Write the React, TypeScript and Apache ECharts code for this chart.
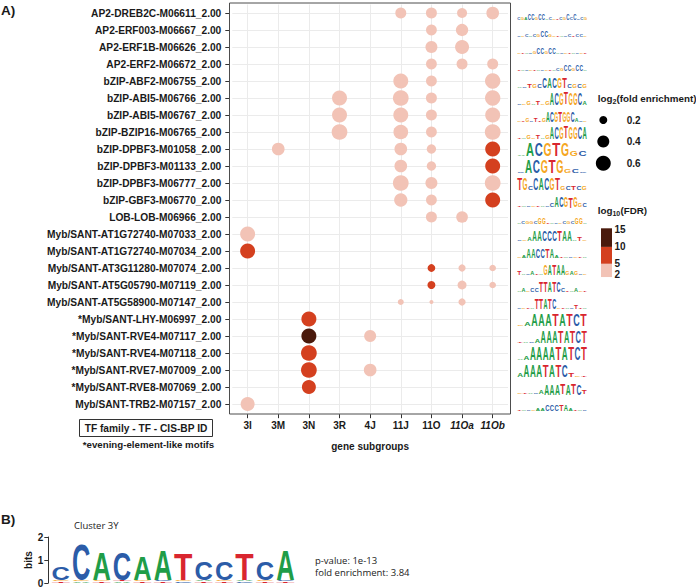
import React, { useEffect, useRef } from 'react';
import * as echarts from 'echarts';

const FONT = '"Liberation Sans", Arial, Helvetica, sans-serif';
const SOFT_FONT = '"Open Sans", "Liberation Sans", sans-serif';

const motifs = [
  'AP2-DREB2C-M06611_2.00',
  'AP2-ERF003-M06667_2.00',
  'AP2-ERF1B-M06626_2.00',
  'AP2-ERF2-M06672_2.00',
  'bZIP-ABF2-M06755_2.00',
  'bZIP-ABI5-M06766_2.00',
  'bZIP-ABI5-M06767_2.00',
  'bZIP-BZIP16-M06765_2.00',
  'bZIP-DPBF3-M01058_2.00',
  'bZIP-DPBF3-M01133_2.00',
  'bZIP-DPBF3-M06777_2.00',
  'bZIP-GBF3-M06770_2.00',
  'LOB-LOB-M06966_2.00',
  'Myb/SANT-AT1G72740-M07033_2.00',
  'Myb/SANT-AT1G72740-M07034_2.00',
  'Myb/SANT-AT3G11280-M07074_2.00',
  'Myb/SANT-AT5G05790-M07119_2.00',
  'Myb/SANT-AT5G58900-M07147_2.00',
  '*Myb/SANT-LHY-M06997_2.00',
  '*Myb/SANT-RVE4-M07117_2.00',
  '*Myb/SANT-RVE4-M07118_2.00',
  '*Myb/SANT-RVE7-M07009_2.00',
  '*Myb/SANT-RVE8-M07069_2.00',
  'Myb/SANT-TRB2-M07157_2.00',
];

const subgroups = ['3I', '3M', '3N', '3R', '4J', '11J', '11O', '11Oa', '11Ob'];
const italicSubgroups = ['11Oa', '11Ob'];

// [gene subgroup, motif index, log2(fold enrichment), log10(FDR)]
const enrichment: [string, number, number, number][] = [
  ['11J', 0, 0.34, 3], ['11O', 0, 0.34, 3], ['11Oa', 0, 0.29, 3], ['11Ob', 0, 0.44, 3],
  ['11O', 1, 0.33, 3], ['11Oa', 1, 0.42, 3],
  ['11O', 2, 0.40, 3], ['11Oa', 2, 0.53, 3],
  ['11O', 3, 0.33, 3], ['11Oa', 3, 0.34, 3], ['11Ob', 3, 0.34, 3],
  ['11J', 4, 0.60, 3], ['11O', 4, 0.33, 3], ['11Ob', 4, 0.63, 3],
  ['3R', 5, 0.60, 3], ['11J', 5, 0.66, 3], ['11O', 5, 0.34, 3], ['11Ob', 5, 0.63, 3],
  ['3R', 6, 0.60, 3], ['11J', 6, 0.60, 3], ['11O', 6, 0.34, 3], ['11Ob', 6, 0.60, 3],
  ['3R', 7, 0.66, 3], ['11J', 7, 0.58, 3], ['11O', 7, 0.33, 3], ['11Ob', 7, 0.66, 3],
  ['3M', 8, 0.44, 3], ['11J', 8, 0.44, 3], ['11O', 8, 0.26, 3], ['11Ob', 8, 0.60, 7],
  ['11J', 9, 0.44, 3], ['11O', 9, 0.26, 3], ['11Ob', 9, 0.60, 7],
  ['11J', 10, 0.66, 3], ['11O', 10, 0.40, 3], ['11Ob', 10, 0.66, 3],
  ['11J', 11, 0.48, 3], ['11O', 11, 0.33, 3], ['11Ob', 11, 0.60, 7],
  ['11O', 12, 0.34, 3], ['11Oa', 12, 0.38, 3],
  ['3I', 13, 0.60, 3],
  ['3I', 14, 0.60, 7],
  ['11O', 15, 0.19, 7], ['11Oa', 15, 0.17, 3], ['11Ob', 15, 0.15, 3],
  ['11O', 16, 0.20, 7], ['11Oa', 16, 0.24, 3], ['11Ob', 16, 0.15, 3],
  ['11J', 17, 0.13, 3], ['11O', 17, 0.08, 3], ['11Oa', 17, 0.17, 3],
  ['3N', 18, 0.60, 7],
  ['3N', 19, 0.60, 12], ['4J', 19, 0.40, 3],
  ['3N', 20, 0.66, 7],
  ['3N', 21, 0.66, 7], ['4J', 21, 0.44, 3],
  ['3N', 22, 0.53, 7],
  ['3I', 23, 0.53, 3],
];

const sizeLegendValues = [0.2, 0.4, 0.6];
const fdrTicks = [15, 10, 5, 2];
const fdrBands: [number, number, string][] = [
  [10, 15.5, '#4a1a0c'],
  [5, 10, '#d4401f'],
  [1.1, 5, '#f2c3b6'],
];

// sequence logos of the CIS-BP motifs (upper case: tall, lower case: short, '.': background)
const motifLogos = [
  'cgaCCgCC.c..cgCcC.cg',
  '..c.cgCCg....c.cc.',
  '....gCCgCC........',
  '..........cgCCgCC.',
  '..tgcCACGTcgcg',
  '..g.t.gACGTGGCa',
  '..g.t.gACGTGGCa..',
  '..g.t.gACGTGGCA',
  '.ACGTGgc',
  '.ACGTGgc.',
  'TGcCACGTgctcg',
  '.......cACGTGgc',
  '.cggcGG....cgcGG.',
  '..aAACCCTAA.t.',
  '.aAACCTAa......',
  't..a..GATAAgag..',
  '.a.ccTTATCc..a..',
  '....TTATC....t..',
  '.aAAATATCT',
  '...aAAATATCT',
  '.aAAAATATCT',
  'aAAATATCt..',
  '....aAAATATCt',
  '....aaCCCTAa...',
];
const motifLogoScale = [7, 7, 6, 7, 10, 12, 11, 12, 14, 13, 12, 11, 7, 10, 9, 10, 10, 10, 12, 12, 13, 12, 11, 7];

// cluster 3Y logo (B)
const clusterLetters = ['C', 'C', 'A', 'C', 'A', 'A', 'T', 'C', 'C', 'T', 'C', 'A'];
const clusterBits = [0.57, 1.57, 1.22, 1.22, 1.04, 1.35, 1.17, 0.83, 0.83, 1.17, 0.83, 1.35];
const clusterMinor = ['TG', 'AG', 'TG', 'AT', 'TG', 'TC', 'CG', 'TA', 'TG', 'CA', 'TG', 'TC'];
const bitsTicks = [0, 1, 2];

const LETTER_COLORS: Record<string, string> = { A: '#1f9d48', C: '#2b5ca8', G: '#f5a623', T: '#d9262f' };
const GLYPH_W: Record<string, number> = { A: 0.722, C: 0.722, G: 0.778, T: 0.611 };

const dotSize = (v: number) => Math.sqrt(Math.max(4, 400 * v - 16));
const fdrColor = (v: number) => (v >= 10 ? fdrBands[0][2] : v >= 5 ? fdrBands[1][2] : fdrBands[2][2]);

function letterEl(letter: string, cx: number, yBottom: number, w: number, h: number, F: number) {
  const L = letter.toUpperCase();
  const sx = w / (GLYPH_W[L] * F);
  const sy = h / (0.729 * F);
  return {
    type: 'text',
    x: cx,
    y: yBottom - 0.3465 * F * sy,
    scaleX: sx,
    scaleY: sy,
    silent: true,
    style: {
      text: L,
      fill: LETTER_COLORS[L],
      font: `bold ${F}px ${FONT}`,
      lineHeight: F * 0.72,
      align: 'center',
      verticalAlign: 'middle',
    },
  };
}

const fdrY = (v: number) => 274 - (v - 2) * 3.385;

function buildOption() {
  const labelStyle = { fontFamily: FONT, fontWeight: 'bold' as const, color: '#1a1a1a' };

  const graphic: any[] = [
    // panel border
    { type: 'rect', silent: true, z: 20, shape: { x: 229.5, y: 3, width: 281, height: 411 }, style: { fill: 'none', stroke: '#4d4d4d', lineWidth: 1 } },
    { type: 'text', x: 1, y: 10, style: { text: 'A)', font: `bold 13.5px ${FONT}`, fill: '#1a1a1a', verticalAlign: 'middle' } },
    { type: 'rect', shape: { x: 79.5, y: 419.5, width: 133, height: 17 }, style: { fill: 'none', stroke: '#333', lineWidth: 1 } },
    { type: 'text', x: 146, y: 428, style: { text: 'TF family - TF - CIS-BP ID', font: `bold 10.2px ${FONT}`, fill: '#1a1a1a', align: 'center', verticalAlign: 'middle' } },
    { type: 'text', x: 148.5, y: 444, style: { text: '*evening-element-like motifs', font: `bold 9.7px ${FONT}`, fill: '#1a1a1a', align: 'center', verticalAlign: 'middle' } },
    // size legend
    { type: 'text', x: 597.7, y: 98, style: { text: 'log', font: `bold 9.8px ${FONT}`, fill: '#1a1a1a', verticalAlign: 'middle' } },
    { type: 'text', x: 612.4, y: 101, style: { text: '2', font: `bold 7px ${FONT}`, fill: '#1a1a1a', verticalAlign: 'middle' } },
    { type: 'text', x: 616.4, y: 98, style: { text: '(fold enrichment)', font: `bold 9.8px ${FONT}`, fill: '#1a1a1a', verticalAlign: 'middle' } },
    // fdr legend
    { type: 'text', x: 597.7, y: 210, style: { text: 'log', font: `bold 9.8px ${FONT}`, fill: '#1a1a1a', verticalAlign: 'middle' } },
    { type: 'text', x: 612.4, y: 213, style: { text: '10', font: `bold 7px ${FONT}`, fill: '#1a1a1a', verticalAlign: 'middle' } },
    { type: 'text', x: 620.4, y: 210, style: { text: '(FDR)', font: `bold 9.8px ${FONT}`, fill: '#1a1a1a', verticalAlign: 'middle' } },
    // B panel texts
    { type: 'text', x: 1, y: 519, style: { text: 'B)', font: `bold 13.5px ${FONT}`, fill: '#1a1a1a', verticalAlign: 'middle' } },
    { type: 'text', x: 74, y: 525, style: { text: 'Cluster 3Y', font: `9.5px ${SOFT_FONT}`, fill: '#222', verticalAlign: 'middle' } },
    { type: 'text', x: 315, y: 560, style: { text: 'p-value: 1e-13', font: `9.5px ${SOFT_FONT}`, fill: '#222', verticalAlign: 'middle', lineHeight: 10 } },
    { type: 'text', x: 315, y: 572, style: { text: 'fold enrichment: 3.84', font: `9.5px ${SOFT_FONT}`, fill: '#222', verticalAlign: 'middle', lineHeight: 10 } },
  ];

  const sizeLegendY = [120, 141.5, 163.3];
  sizeLegendValues.forEach((v, k) => {
    graphic.push({ type: 'circle', shape: { cx: 603.3, cy: sizeLegendY[k], r: dotSize(v) / 2 }, style: { fill: '#000' } });
    graphic.push({ type: 'text', x: 626.7, y: sizeLegendY[k], style: { text: v.toFixed(1), font: `bold 10px ${FONT}`, fill: '#1a1a1a', verticalAlign: 'middle' } });
  });
  fdrBands.forEach(([lo, hi, color]) => {
    graphic.push({ type: 'rect', shape: { x: 601, y: fdrY(hi), width: 11, height: fdrY(lo) - fdrY(hi) }, style: { fill: color } });
  });
  fdrTicks.forEach((t) => {
    graphic.push({ type: 'text', x: 614.5, y: fdrY(t), style: { text: String(t), font: `bold 10px ${FONT}`, fill: '#1a1a1a', verticalAlign: 'middle' } });
  });

  return {
    animation: false,
    textStyle: { fontFamily: FONT },
    grid: [
      { left: 232.3, top: 4.5, width: 275.7, height: 408 },
      { left: 50.6, top: 537, width: 245, height: 46 },
      { left: 517, top: 4.5, width: 70, height: 408 },
    ],
    xAxis: [
      {
        type: 'category',
        gridIndex: 0,
        data: subgroups,
        offset: 1.7,
        axisLine: { show: false },
        axisTick: { show: true, alignWithLabel: true, length: 4, lineStyle: { color: '#333' } },
        axisLabel: {
          ...labelStyle,
          fontSize: 10,
          margin: 6,
          interval: 0,
          formatter: (v: string) => (italicSubgroups.includes(v) ? `{i|${v}}` : v),
          rich: { i: { ...labelStyle, fontSize: 10, fontStyle: 'italic' } },
        },
        splitLine: { show: false },
        name: 'gene subgroups',
        nameLocation: 'middle',
        nameGap: 27,
        nameTextStyle: { ...labelStyle, fontSize: 10 },
      },
      { type: 'category', gridIndex: 1, data: clusterLetters.map((_, i) => String(i + 1)), show: false },
      { type: 'value', gridIndex: 2, min: 0, max: 1, show: false },
    ],
    yAxis: [
      {
        type: 'category',
        gridIndex: 0,
        data: motifs,
        inverse: true,
        offset: 3,
        axisLine: { show: false },
        axisTick: { show: true, alignWithLabel: true, length: 4, lineStyle: { color: '#333' } },
        axisLabel: { ...labelStyle, fontSize: 10.2, margin: 8, interval: 0 },
        splitLine: { show: false },
      },
      {
        type: 'value',
        gridIndex: 1,
        min: 0,
        max: 2,
        interval: 1,
        offset: 2.3,
        axisLine: { show: true, lineStyle: { color: '#333' } },
        axisTick: { show: true, length: 4, lineStyle: { color: '#333' } },
        axisLabel: { ...labelStyle, fontSize: 10, margin: 5, formatter: (v: number) => (bitsTicks.includes(v) ? String(v) : '') },
        splitLine: { show: false },
        name: 'bits',
        nameLocation: 'middle',
        nameRotate: 90,
        nameGap: 13,
        nameTextStyle: { ...labelStyle, fontSize: 10 },
      },
      { type: 'category', gridIndex: 2, data: motifs, inverse: true, show: false },
    ],
    series: [
      {
        type: 'scatter',
        xAxisIndex: 0,
        yAxisIndex: 0,
        z: 3,
        data: enrichment.map(([g, m, fe, fdr]) => [g, motifs[m], fe, fdr]),
        symbol: 'circle',
        symbolSize: (v: any[]) => dotSize(v[2]),
        itemStyle: { opacity: 1, color: (p: any) => fdrColor(p.value[3]) },
        emphasis: { disabled: true },
        markLine: {
          z: 1,
          silent: true,
          symbol: ['none', 'none'],
          label: { show: false },
          lineStyle: { type: 'solid', color: '#ebebeb', width: 1 },
          emphasis: { disabled: true },
          data: [
            ...subgroups.map((s) => ({ xAxis: s })),
            ...motifs.map((m) => ({ yAxis: m })),
          ],
        },
      },
      {
        type: 'custom',
        xAxisIndex: 2,
        yAxisIndex: 2,
        silent: true,
        clip: false,
        data: motifs.map((_, i) => [0, i]),
        renderItem: (params: any, api: any) => {
          const i = params.dataIndex;
          const logo = motifLogos[i];
          const scale = motifLogoScale[i];
          const left = api.coord([0, i]);
          const right = api.coord([1, i]);
          const pw = (right[0] - left[0]) / logo.length;
          const base = left[1] + 7;
          const children: any[] = [];
          for (let j = 0; j < logo.length; j++) {
            const ch = logo[j];
            let L: string;
            let h: number;
            if (ch === '.') {
              L = 'ACGT'[(i + j) % 4];
              h = Math.max(1, scale * 0.1);
            } else if (ch === ch.toUpperCase()) {
              L = ch;
              h = scale;
            } else {
              L = ch.toUpperCase();
              h = scale * 0.35;
            }
            children.push(letterEl(L, left[0] + pw * (j + 0.5), base, pw * 0.92, h, 10));
          }
          return { type: 'group', children };
        },
      },
      {
        type: 'custom',
        xAxisIndex: 1,
        yAxisIndex: 1,
        silent: true,
        clip: false,
        data: clusterBits.map((b, i) => [i, b]),
        renderItem: (params: any, api: any) => {
          const i = params.dataIndex;
          const p0 = api.coord([i, 0]);
          const w = api.size([1, 0])[0];
          const perBit = api.size([0, 1])[1];
          let y = p0[1];
          const children: any[] = [];
          for (const m of clusterMinor[i]) {
            const h = 0.065 * perBit;
            children.push(letterEl(m, p0[0], y, w * 0.9, h, 20));
            y -= h;
          }
          children.push(letterEl(clusterLetters[i], p0[0], y, w * 0.9, clusterBits[i] * perBit, 20));
          return { type: 'group', children };
        },
      },
    ],
    graphic,
  };
}

export default function App() {
  const ref = useRef<HTMLDivElement>(null);
  useEffect(() => {
    document.body.style.margin = '0';
    const chart = echarts.init(ref.current!, null, { renderer: 'svg' });
    chart.setOption(buildOption() as any);
    return () => chart.dispose();
  }, []);
  return <div ref={ref} style={{ width: 696, height: 588 }} />;
}
